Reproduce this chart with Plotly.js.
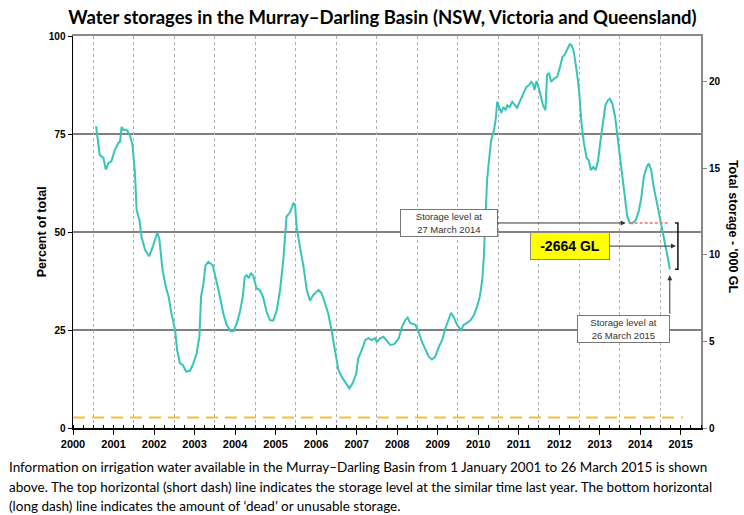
<!DOCTYPE html>
<html>
<head>
<meta charset="utf-8">
<script src="https://cdn.plot.ly/plotly-3.0.1.min.js"></script>
<style>
html,body{margin:0;padding:0;background:#fff;}
#chart{width:744px;height:515px;}
</style>
</head>
<body>
<div id="chart"></div>
<script>
// ---- data (decimal years, percent of total capacity) ----
const dates = [
  2001.07,2001.16,2001.25,2001.31,2001.37,2001.45,2001.53,2001.62,2001.66,2001.70,2001.74,2001.82,2001.90,2001.97,
  2002.03,2002.07,2002.14,2002.19,2002.28,2002.38,2002.48,2002.58,2002.63,2002.71,2002.79,2002.86,2002.93,
  2003.02,2003.07,2003.14,2003.21,2003.29,2003.39,2003.47,2003.55,2003.62,2003.66,2003.72,2003.77,2003.84,2003.95,
  2004.00,2004.03,2004.11,2004.21,2004.29,2004.39,2004.46,2004.54,2004.62,2004.69,2004.74,2004.79,2004.84,2004.89,2004.95,
  2005.03,2005.11,2005.19,2005.28,2005.36,2005.44,2005.53,2005.61,2005.69,2005.77,2005.86,2005.94,2005.98,
  2006.02,2006.10,2006.19,2006.27,2006.35,2006.43,2006.56,2006.64,2006.72,2006.80,2006.88,2006.97,
  2007.05,2007.13,2007.21,2007.32,2007.40,2007.49,2007.54,2007.63,2007.71,2007.79,2007.87,2007.95,
  2008.00,2008.08,2008.16,2008.23,2008.33,2008.43,2008.54,2008.62,2008.70,2008.76,2008.82,2008.95,
  2009.03,2009.11,2009.20,2009.28,2009.36,2009.44,2009.53,2009.61,2009.69,2009.77,2009.83,2009.90,2009.98,
  2010.08,2010.14,2010.23,2010.31,2010.39,2010.47,2010.54,2010.60,2010.64,2010.68,2010.72,2010.76,2010.82,2010.89,2010.93,2010.97,
  2011.01,2011.07,2011.12,2011.18,2011.22,2011.28,2011.34,2011.40,2011.46,2011.54,2011.62,2011.69,2011.75,2011.81,2011.86,2011.89,2011.94,2011.99,
  2012.05,2012.10,2012.16,2012.20,2012.25,2012.30,2012.37,2012.45,2012.52,2012.58,2012.63,2012.70,2012.76,2012.81,2012.86,2012.93,2012.99,
  2013.05,2013.11,2013.18,2013.23,2013.28,2013.34,2013.40,2013.46,2013.52,2013.58,2013.64,2013.70,2013.75,2013.81,2013.88,2013.93,
  2014.00,2014.06,2014.11,2014.18,2014.24,2014.30,2014.39,2014.47,2014.53,2014.59,2014.66,2014.71,2014.77,2014.83,2014.90,2014.96,
  2015.02,2015.09,2015.16,2015.20,2015.23
];
const percentFull = [
  77.0,69.6,68.9,65.9,67.5,68.1,70.9,72.7,73.0,76.8,76.1,76.1,74.9,72.1,
  64.9,55.6,53.0,48.8,45.4,43.8,46.6,49.8,48.3,40.3,36.0,33.5,29.2,
  25.0,19.9,16.5,16.1,14.4,14.6,16.5,19.0,23.3,33.5,36.9,41.5,42.4,41.5,
  39.4,38.2,34.3,29.2,26.3,24.7,24.7,26.7,29.6,33.5,38.6,39.0,38.2,39.6,38.8,
  35.6,35.2,33.5,29.6,27.5,27.4,30.1,35.2,42.8,53.9,55.1,57.3,56.9,
  51.3,46.2,41.1,35.2,32.5,33.9,35.2,34.3,31.8,29.2,25.0,19.9,
  14.8,13.1,11.8,10.1,11.4,13.9,17.8,19.9,22.4,22.9,22.4,22.9,
  22.0,22.9,23.3,22.4,21.2,21.4,22.9,25.8,27.5,28.2,26.8,26.3,
  24.6,22.0,19.9,18.2,17.5,18.2,20.7,22.4,25.4,27.5,29.4,28.2,26.3,
  25.0,26.3,26.8,27.5,28.7,30.9,33.5,37.7,43.7,53.9,63.2,67.5,73.4,76.0,78.5,83.2,
  81.9,80.4,81.9,81.1,82.3,81.9,83.2,82.3,81.7,83.6,85.3,87.0,87.4,88.3,87.7,86.2,88.5,87.0,
  84.5,82.3,81.1,90.0,90.6,88.3,89.1,89.6,92.1,94.7,95.1,96.8,97.9,97.6,96.0,91.2,86.2,
  77.7,72.6,68.8,68.3,65.8,66.6,65.8,68.3,73.4,78.5,82.3,83.6,84.0,82.8,79.4,75.1,
  69.2,64.1,59.0,53.9,52.3,52.2,53.0,55.6,59.0,64.1,66.6,67.5,65.8,61.6,58.1,55.1,
  51.3,48.7,44.9,42.4,40.5
];
const yearLabels = ['2000','2001','2002','2003','2004','2005','2006','2007','2008','2009','2010','2011','2012','2013','2014','2015'];
const percentTicks = [0,25,50,75,100];
const storageTicks = [0,5,10,15,20];
const totalCapacityKGL = 22.65;          // '000 GL at 100 %
const deadStorageSpan = [2000.5, 2015.55];
const deadStorageKGL = [0.6, 0.6];
const lastYearDate = 2014.24;            // 27 March 2014
const currentDate = 2015.23;             // 26 March 2015
const changeLabel = '-2664 GL';
const lastYearText = 'Storage level at<br>27 March 2014';
const currentText = 'Storage level at<br>26 March 2015';

// derived
const lastYearLevel = percentFull[dates.indexOf(lastYearDate)];
const currentLevel = percentFull[percentFull.length - 1];
const midLevel = (lastYearLevel + currentLevel) / 2;
const bracketX = currentDate + 0.2;
const tickPos = yearLabels.map(y => Number(y) + 0.5);

const AR = 'Arial';
const CAL = 'Lato';

const traces = [
  {x: dates, y: percentFull, type: 'scatter', mode: 'lines',
   line: {color: '#37c4b9', width: 2}, xaxis: 'x', yaxis: 'y', hoverinfo: 'skip'},
  {x: [lastYearDate, currentDate], y: [lastYearLevel, lastYearLevel], type: 'scatter', mode: 'lines',
   line: {color: '#f07070', width: 1.5, dash: '3px,2px'}, xaxis: 'x', yaxis: 'y'},
  {x: [bracketX - 0.07, bracketX, bracketX, bracketX - 0.07],
   y: [lastYearLevel, lastYearLevel, currentLevel, currentLevel], type: 'scatter', mode: 'lines',
   line: {color: '#111', width: 1.5}, xaxis: 'x', yaxis: 'y'},
  {x: deadStorageSpan, y: deadStorageKGL, type: 'scatter', mode: 'lines',
   line: {color: '#f6bd3c', width: 2, dash: '12px,7px'}, xaxis: 'x2', yaxis: 'y2'}
];

const boxCommon = {xref: 'x', yref: 'y', font: {family: AR, size: 9.5, color: '#333'},
  bgcolor: '#fff', bordercolor: '#777', borderwidth: 1, borderpad: 1};

const captionFont = {family: CAL, size: 13.5, color: '#000'};

const layout = {
  width: 744, height: 515,
  margin: {l: 73, r: 43, t: 36, b: 87},
  paper_bgcolor: '#fff', plot_bgcolor: '#fff',
  showlegend: false,
  title: {text: '<b>Water storages in the Murray–Darling Basin (NSW, Victoria and Queensland)</b>',
    xref: 'container', yref: 'container', x: 0.514, xanchor: 'center', y: 0.966, yanchor: 'middle',
    font: {family: CAL, size: 18.5, color: '#000'}},
  xaxis: {range: [2000.5, 2016.0], tickmode: 'array', tickvals: tickPos, ticktext: yearLabels,
    ticks: 'outside', ticklen: 5, tickcolor: '#000', tickwidth: 1,
    tickfont: {family: AR, size: 11, color: '#000', weight: 'bold'},
    showline: true, linecolor: '#000', linewidth: 1.5, showgrid: false, zeroline: false,
    minor: {tickmode: 'linear', tick0: 2000.5, dtick: 0.25, ticks: 'inside', ticklen: 3, tickcolor: '#000', showgrid: false}},
  xaxis2: {overlaying: 'x', matches: 'x', side: 'top', anchor: 'y', tickmode: 'linear', tick0: 2001, dtick: 1,
    showgrid: true, gridcolor: '#b0b0b0', griddash: 'dot', gridwidth: 1,
    ticks: '', showticklabels: false, showline: true, linecolor: '#8a8a8a', linewidth: 2, zeroline: false},
  yaxis: {range: [0, 100], tickmode: 'array', tickvals: percentTicks, ticks: 'outside', ticklen: 4, tickcolor: '#000',
    tickfont: {family: AR, size: 10, color: '#000', weight: 'bold'},
    showline: true, linecolor: '#000', linewidth: 1.5, showgrid: true, gridcolor: '#808080', gridwidth: 1.4, zeroline: false},
  yaxis2: {overlaying: 'y', side: 'right', anchor: 'x', range: [0, totalCapacityKGL], tickmode: 'array', tickvals: storageTicks,
    ticks: 'outside', ticklen: 4, tickcolor: '#888',
    tickfont: {family: AR, size: 10, color: '#000', weight: 'bold'},
    showline: true, linecolor: '#8a8a8a', linewidth: 2, showgrid: false, zeroline: false},
  annotations: [
    {text: '<b>Percent of total</b>', xref: 'paper', yref: 'paper', x: -0.049, y: 0.5, xanchor: 'center', yanchor: 'middle',
     textangle: -90, showarrow: false, font: {family: AR, size: 12.5, color: '#000'}},
    {text: "<b>Total storage - '000 GL</b>", xref: 'paper', yref: 'paper', x: 1.051, y: 0.513, xanchor: 'center', yanchor: 'middle',
     textangle: 90, showarrow: false, font: {family: AR, size: 12.5, color: '#000'}},
    Object.assign({}, boxCommon, {text: lastYearText, x: lastYearDate, y: lastYearLevel, showarrow: true,
     ax: -181, ay: 0, axref: 'pixel', ayref: 'pixel', standoff: 4, width: 94, height: 24,
     arrowhead: 2, arrowsize: 1, arrowwidth: 1, arrowcolor: '#333'}),
    {text: '<b>' + changeLabel + '</b>', xref: 'x', yref: 'y', x: bracketX, y: midLevel, showarrow: true,
     ax: -108, ay: 0, standoff: 2, arrowhead: 2, arrowsize: 1, arrowwidth: 1, arrowcolor: '#333',
     bgcolor: '#ffff00', bordercolor: '#888', borderwidth: 1, width: 76, height: 24,
     font: {family: AR, size: 14, color: '#000'}},
    {text: '', xref: 'x', yref: 'y', x: currentDate, y: currentLevel, showarrow: true,
     ax: 0, ay: 46, standoff: 6, arrowhead: 2, arrowsize: 1, arrowwidth: 1, arrowcolor: '#333'},
    Object.assign({}, boxCommon, {text: currentText, x: currentDate, y: currentLevel, xanchor: 'right', yanchor: 'top',
     yshift: -46, showarrow: false, width: 89, height: 24}),
    {text: 'Information on irrigation water available in the Murray–Darling Basin from 1 January 2001 to 26 March 2015 is shown',
     xref: 'paper', yref: 'paper', x: -0.1051, y: -0.0995, xanchor: 'left', yanchor: 'middle', showarrow: false, font: captionFont},
    {text: 'above. The top horizontal (short dash) line indicates the storage level at the similar time last year. The bottom horizontal',
     xref: 'paper', yref: 'paper', x: -0.1051, y: -0.1505, xanchor: 'left', yanchor: 'middle', showarrow: false, font: captionFont},
    {text: '(long dash) line indicates the amount of ‘dead’ or unusable storage.',
     xref: 'paper', yref: 'paper', x: -0.1051, y: -0.199, xanchor: 'left', yanchor: 'middle', showarrow: false, font: captionFont}
  ]
};

Plotly.newPlot('chart', traces, layout, {displayModeBar: false, staticPlot: true});
</script>
</body>
</html>
